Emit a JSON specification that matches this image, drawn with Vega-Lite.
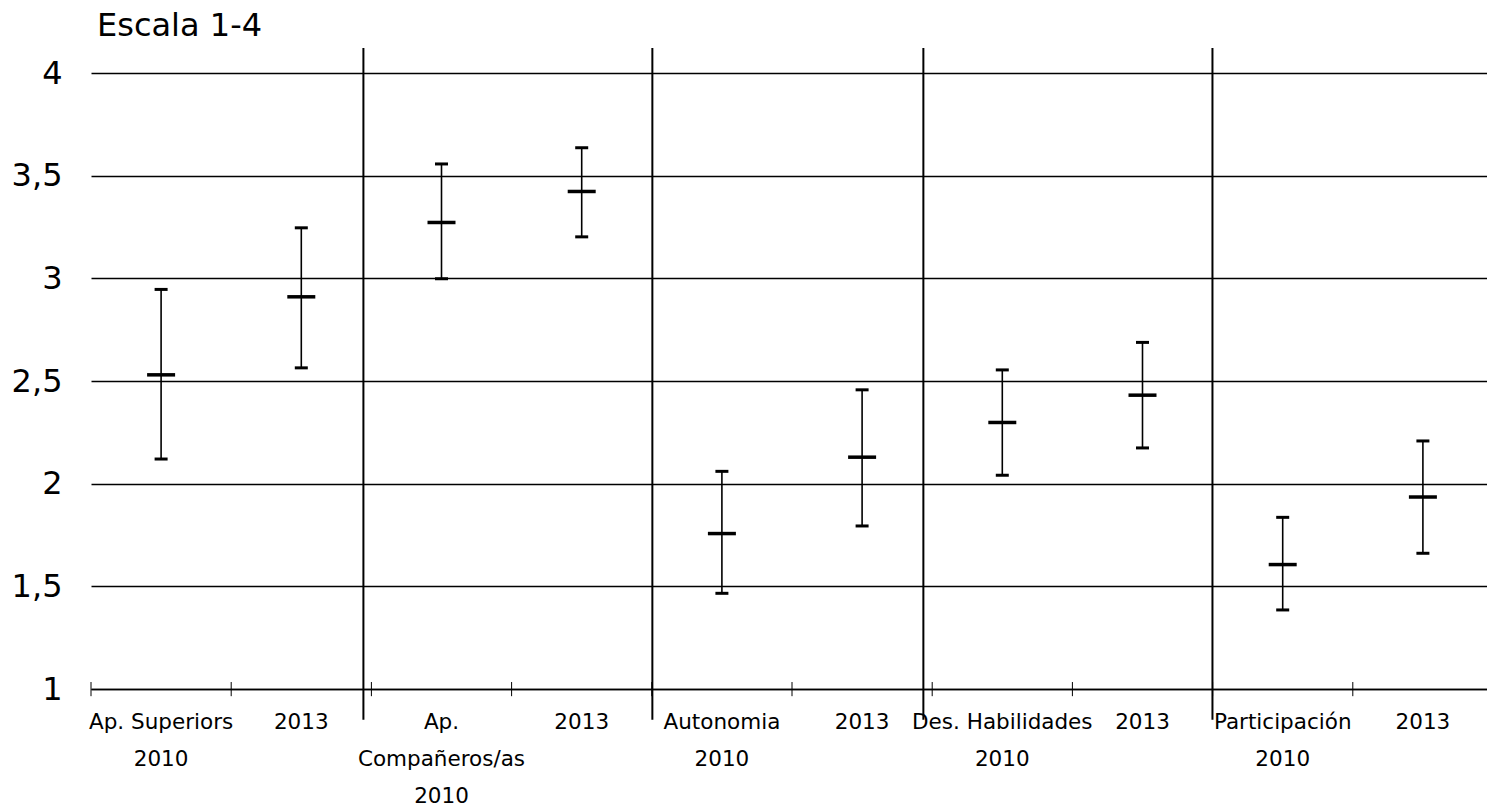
{
  "$schema": "https://vega.github.io/schema/vega-lite/v6.json",
  "width": 1396,
  "height": 616,
  "autosize": {"type": "none"},
  "padding": {"left": 91, "top": 73, "right": 0, "bottom": 115},
  "background": "white",
  "config": {"view": {"stroke": null}, "font": "DejaVu Sans"},
  "title": {"text": "Escala 1-4", "anchor": "start", "frame": "group", "dx": 6, "offset": 4, "fontSize": 32, "fontWeight": "normal", "color": "black", "font": "DejaVu Sans"},
  "datasets": {
    "ci": [
      {"id": "Ap. Superiors|2010", "mean": 2.53, "low": 2.12, "high": 2.946},
      {"id": "Ap. Superiors|2013", "mean": 2.91, "low": 2.564, "high": 3.246},
      {"id": "Ap.|Compañeros/as|2010", "mean": 3.272, "low": 2.998, "high": 3.557},
      {"id": "Ap. Compañeros/as|2013", "mean": 3.423, "low": 3.202, "high": 3.636},
      {"id": "Autonomia|2010", "mean": 1.757, "low": 1.466, "high": 2.06},
      {"id": "Autonomia|2013", "mean": 2.129, "low": 1.794, "high": 2.457},
      {"id": "Des. Habilidades|2010", "mean": 2.298, "low": 2.041, "high": 2.554},
      {"id": "Des. Habilidades|2013", "mean": 2.431, "low": 2.174, "high": 2.688},
      {"id": "Participación|2010", "mean": 1.606, "low": 1.385, "high": 1.836},
      {"id": "Participación|2013", "mean": 1.935, "low": 1.661, "high": 2.208}
    ],
    "sep": [{"pos": 1.943}, {"pos": 4.004}, {"pos": 5.937}, {"pos": 7.999}]
  },
  "resolve": {"scale": {"x": "independent"}},
  "layer": [
    {
      "data": {"name": "ci"},
      "encoding": {
        "x": {
          "field": "id", "type": "nominal", "sort": null,
          "scale": {"range": [0, 1402], "paddingInner": 0, "paddingOuter": 0},
          "axis": {
            "title": null, "ticks": false, "grid": false,
            "domainColor": "black", "domainWidth": 1.5,
            "labelAngle": 0, "labelFontSize": 21.5, "labelColor": "black", "labelFont": "DejaVu Sans",
            "labelLineHeight": 37, "labelBaseline": "top", "labelPadding": 22,
            "labelOverlap": false, "labelBound": false, "labelLimit": 400,
            "labelExpr": "indexof(datum.value, '2013') >= 0 ? '2013' : split(datum.value, '|')"
          }
        }
      },
      "layer": [
        {
          "mark": {"type": "rule", "color": "black", "strokeWidth": 1},
          "encoding": {
            "x": {"field": "id", "type": "nominal", "sort": null, "bandPosition": 0},
            "y": {"datum": 1.034, "type": "quantitative", "scale": {"domain": [1, 4], "nice": false, "zero": false},
              "axis": {
                "title": null, "domain": false, "ticks": false, "grid": true,
                "gridColor": "black", "gridWidth": 1.5, "gridOpacity": 1,
                "values": [1, 1.5, 2, 2.5, 3, 3.5, 4],
                "labelFontSize": 32, "labelColor": "black", "labelFont": "DejaVu Sans", "labelPadding": 29,
                "labelExpr": "replace(format(datum.value, '.1~f'), '.', ',')"
              }
            },
            "y2": {"datum": 0.965}
          }
        },
        {
          "mark": {"type": "rule", "color": "black", "strokeWidth": 1.6},
          "encoding": {
            "y": {"field": "low", "type": "quantitative"},
            "y2": {"field": "high"}
          }
        },
        {
          "mark": {"type": "tick", "color": "black", "size": 13, "thickness": 3, "opacity": 1},
          "encoding": {"y": {"field": "high", "type": "quantitative"}}
        },
        {
          "mark": {"type": "tick", "color": "black", "size": 13, "thickness": 3, "opacity": 1},
          "encoding": {"y": {"field": "low", "type": "quantitative"}}
        },
        {
          "mark": {"type": "tick", "color": "black", "size": 28, "thickness": 3.5, "opacity": 1},
          "encoding": {"y": {"field": "mean", "type": "quantitative"}}
        }
      ]
    },
    {
      "data": {"name": "sep"},
      "mark": {"type": "rule", "color": "black", "strokeWidth": 2},
      "encoding": {
        "x": {"field": "pos", "type": "quantitative", "scale": {"domain": [0, 10], "range": [0, 1402], "nice": false, "zero": false}, "axis": null},
        "y": {"datum": 4.122, "type": "quantitative"},
        "y2": {"datum": 0.85}
      }
    }
  ]
}
